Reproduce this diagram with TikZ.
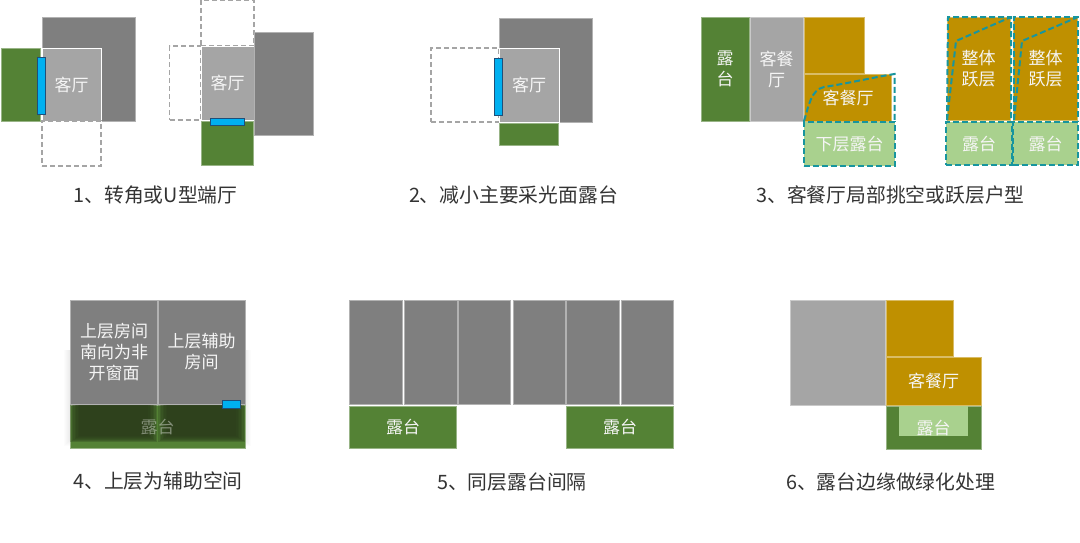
\documentclass[tikz,border=0pt]{standalone}
\usepackage{fontspec}
\setmainfont{Noto Sans CJK SC}
\definecolor{darkroom}{HTML}{7F7F7F}
\definecolor{lightroom}{HTML}{A5A5A5}
\definecolor{terrace}{HTML}{548235}
\definecolor{paleterrace}{HTML}{A9D18E}
\definecolor{gold}{HTML}{BF9000}
\definecolor{glass}{HTML}{00B0F0}
\definecolor{glassedge}{HTML}{1F4E79}
\definecolor{tealdash}{HTML}{17959E}
\definecolor{dimgreen}{HTML}{2C3D1B}
\tikzset{
  room/.style={inner sep=0pt,outer sep=0pt,align=center,text=white!92!gray,font=\fontsize{17}{21}\selectfont,draw=#1!60!white,line width=0.6pt,fill=#1},
  ghost/.style={inner sep=0pt,outer sep=0pt,draw=lightroom,line width=1.2pt,dash pattern=on 5pt off 3pt},
  window/.style={inner sep=0pt,outer sep=0pt,draw=glassedge,line width=0.8pt,fill=glass},
  tealbox/.style={inner sep=0pt,outer sep=0pt,align=center,text=white!92!gray,font=\fontsize{17}{21}\selectfont,fill=paleterrace,draw=tealdash,line width=2pt,dash pattern=on 6pt off 3pt},
  tealline/.style={draw=tealdash,line width=2pt,dash pattern=on 6pt off 3pt},
  caption/.style={inner sep=0pt,text=black!80,font=\fontsize{19.8}{24}\selectfont}
}
\begin{document}
\begin{tikzpicture}[x=1pt,y=-1pt]
\useasboundingbox (0,0) rectangle (1080,542);
% panel 1
\node[room=darkroom,minimum width=93pt,minimum height=104pt](d1) at (88.5,69) {};
\node[room=terrace,minimum width=39pt,minimum height=73pt](g1) at (20.5,84.5) {};
\node[room=lightroom,draw=white,minimum width=59pt,minimum height=73pt](r1) at (71.5,84.5) {客厅};
\node[ghost,minimum width=59pt,minimum height=45pt](e1) at (71.5,143.5) {};
\node[window,minimum width=8pt,minimum height=57pt](w1) at (41,85.5) {};
\node[ghost,minimum width=53pt,minimum height=46pt](e2) at (227.5,23) {};
\node[ghost,minimum width=31pt,minimum height=74pt](e3) at (185,83) {};
\node[room=lightroom,draw=white,minimum width=53pt,minimum height=74pt](r2) at (227.5,83) {客厅};
\node[room=darkroom,minimum width=59pt,minimum height=103pt](d2) at (283.5,83.5) {};
\node[room=terrace,minimum width=52pt,minimum height=44pt](g2) at (227.5,143) {};
\node[window,minimum width=34pt,minimum height=7pt](w2) at (227.5,121.5) {};
\node[caption](c1) at (155.5,195) {1、转角或U型端厅};
% panel 2
\node[ghost,minimum width=68pt,minimum height=74pt](e4) at (465,85) {};
\node[room=darkroom,minimum width=93pt,minimum height=104pt](d3) at (545.5,70) {};
\node[room=lightroom,draw=white,minimum width=60pt,minimum height=74pt](r3) at (529,85) {客厅};
\node[room=terrace,minimum width=59pt,minimum height=22pt](g3) at (528.5,134.5) {};
\node[window,minimum width=8pt,minimum height=57pt](w3) at (498.5,86.5) {};
\node[caption](c2) at (513.5,195) {2、减小主要采光面露台};
% panel 3
\node[room=terrace,minimum width=48pt,minimum height=104pt](g4) at (725,69) {露\\台};
\node[room=lightroom,minimum width=53pt,minimum height=104pt](r4) at (776.5,69) {客餐\\厅};
\node[room=gold,minimum width=60pt,minimum height=56pt](y1) at (834.5,45) {};
\node[room=gold,minimum width=87pt,minimum height=47pt](y2) at (848,97.5) {客餐厅};
\node[tealbox,minimum width=91pt,minimum height=44pt](p1) at (849.5,144) {下层露台};
\coordinate (a1) at (804,121);
\coordinate (a2) at (894.5,74);
\coordinate (a3) at (894.5,122);
\draw[tealline] (a1) .. controls (809,105) and (811,90) .. (824,87) .. controls (850,83) and (875,77) .. (a2) -- (a3);
\node[room=gold,minimum width=63pt,minimum height=103pt](y3) at (978.5,68.5) {整体\\跃层};
\node[room=gold,minimum width=64pt,minimum height=103pt](y4) at (1045.5,68.5) {整体\\跃层};
\coordinate (b1) at (947,120);
\coordinate (b2) at (948,17);
\coordinate (b3) at (1011,17);
\coordinate (b4) at (1011,120);
\coordinate (b5) at (956,41);
\draw[tealline] (b1) -- (b2) -- (b3) -- (b4);
\draw[tealline] (b1) -- (b5) -- (b3);
\coordinate (b6) at (1014,120);
\coordinate (b7) at (1014,17);
\coordinate (b8) at (1078,17);
\coordinate (b9) at (1078,120);
\coordinate (b10) at (1022,41);
\draw[tealline] (b6) -- (b7) -- (b8) -- (b9);
\draw[tealline] (b6) -- (b10) -- (b8);
\node[tealbox,minimum width=66pt,minimum height=43pt](p2) at (979,143.5) {露台};
\node[tealbox,minimum width=65pt,minimum height=43pt](p3) at (1045.5,143.5) {露台};
\node[caption](c3) at (890.5,195) {3、客餐厅局部挑空或跃层户型};
% panel 4
\foreach \i in {1,...,6}{
  \fill[black,opacity=0.012] (70-\i,350) rectangle (245+\i,440+\i);
}
\node[room=darkroom,minimum width=87pt,minimum height=104pt](d4) at (114,352) {上层房间\\南向为非\\开窗面};
\node[room=darkroom,minimum width=87pt,minimum height=104pt](d5) at (201.5,352) {上层辅助\\房间};
\node[room=terrace,minimum width=175pt,minimum height=43pt](g5) at (157.5,426.5) {};
\foreach \i in {0,...,6}{
  \fill[dimgreen,opacity=0.3] (70+1.5*\i,405) rectangle (157-1.5*\i,442-\i);
  \fill[dimgreen,opacity=0.3] (158+1.5*\i,405) rectangle (245-1.5*\i,442-\i);
}
\node[inner sep=0pt,text=white,opacity=0.4,font=\fontsize{17}{21}\selectfont](t5) at (157.5,426.5) {露台};
\node[window,minimum width=18pt,minimum height=8pt](w4) at (231,404) {};
\node[caption](c4) at (158,481) {4、上层为辅助空间};
% panel 5
\foreach \x/\n in {376/1,430.7/2,484.4/3,539.2/4,593/5,647.2/6}{
  \node[room=darkroom,minimum width=52.5pt,minimum height=104pt](s\n) at (\x,352) {};
}
\node[room=terrace,minimum width=107pt,minimum height=42pt](g6) at (403,427) {露台};
\node[room=terrace,minimum width=107pt,minimum height=42pt](g7) at (620,427) {露台};
\node[caption](c5) at (512,482) {5、同层露台间隔};
% panel 6
\node[room=lightroom,minimum width=95pt,minimum height=105pt](r6) at (837.5,352.5) {};
\node[room=gold,minimum width=67pt,minimum height=56pt](y5) at (920,328) {};
\node[room=gold,minimum width=95pt,minimum height=48pt](y6) at (933.5,381) {客餐厅};
\node[room=terrace,minimum width=95pt,minimum height=43pt](g8) at (933.5,427.5) {};
\node[room=paleterrace,draw=none,minimum width=69pt,minimum height=30pt](p4) at (933.5,421) {};
\node[inner sep=0pt,text=white!92!gray,font=\fontsize{17}{21}\selectfont](t6) at (933.5,427.5) {露台};
\node[caption](c6) at (890.5,482) {6、露台边缘做绿化处理};
\end{tikzpicture}
\end{document}
